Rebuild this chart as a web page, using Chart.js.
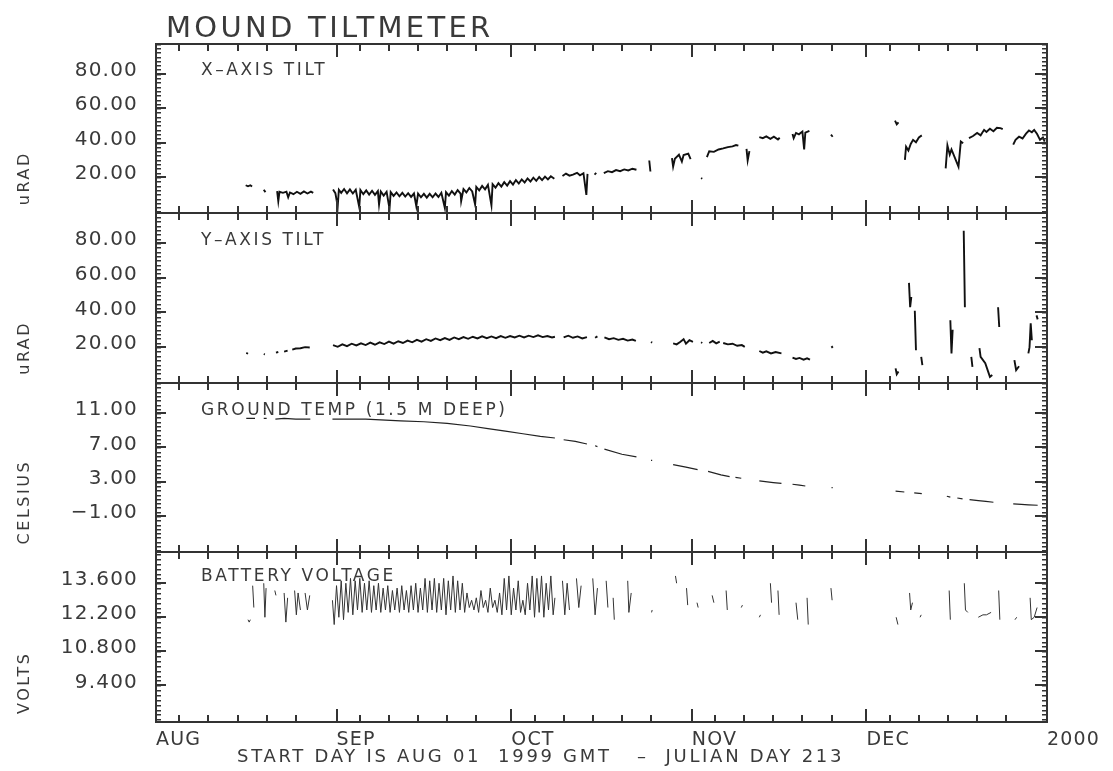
<!DOCTYPE html>
<html>
<head>
<meta charset="utf-8">
<title>Mound Tiltmeter</title>
<script src="https://cdn.jsdelivr.net/npm/chart.js@4.4.0/dist/chart.umd.min.js"></script>
<style>
  html, body { margin: 0; padding: 0; background: #fff; }
  #wrap { position: relative; width: 1113px; height: 771px; }
</style>
</head>
<body>
<div id="wrap"><canvas id="chart" width="1113" height="771"></canvas></div>
<script>
// dias contados desde el 1 de agosto de 1999 (0 = AUG 01)
const GAP = null;

const monthStartDays = [0, 31, 61, 92, 122, 153];
const monthLabels = ['AUG', 'SEP', 'OCT', 'NOV', 'DEC', '2000'];
const minorDays = [4, 9, 14, 19, 24, 35, 40, 45, 50, 55, 65, 70, 75, 80, 85,
                   96, 101, 106, 111, 116, 126, 131, 136, 141, 146];

const tiltTicks = [20, 40, 60, 80];
const tempTicks = [-1, 3, 7, 11];
const voltTicks = [9.4, 10.8, 12.2, 13.6];

const panelTitles = ['X\u2013AXIS TILT', 'Y\u2013AXIS TILT', 'GROUND TEMP (1.5 M DEEP)', 'BATTERY VOLTAGE'];
const unitTitles = ['uRAD', 'uRAD', 'CELSIUS', 'VOLTS'];

// X-AXIS TILT (uRAD)
const xTilt = [
  [15.4, 15.2], [15.8, 14.6], [16.2, 15.2], [16.5, 14.5], GAP,
  [18.5, 12.6], [18.8, 11.2], GAP,
  [20.8, 11.8], [21.0, 6.0], [21.2, 11.4], [21.8, 10.8], [22.4, 11.5], [22.7, 8.2], [23.0, 11.0],
  [23.6, 10.0], [24.2, 11.4], [24.8, 10.2], [25.4, 11.6], [26.0, 10.4], [26.6, 11.5], [27.0, 10.8], GAP,
  [30.4, 12.8], [30.8, 10.6], [31.2, 3.0], [31.4, 12.6], [31.8, 10.8], [32.3, 13.0], [32.8, 10.5],
  [33.3, 12.8], [33.8, 10.4], [34.3, 12.6], [34.9, 2.5], [35.1, 12.4], [35.6, 10.0], [36.1, 12.2],
  [36.6, 9.8], [37.1, 12.0], [37.6, 9.6], [38.1, 11.8], [38.3, 4.0], [38.6, 11.6], [39.1, 9.2],
  [39.6, 11.4], [40.1, 1.5], [40.3, 11.2], [40.8, 9.0], [41.3, 11.0], [41.8, 8.8], [42.3, 10.8],
  [42.8, 8.6], [43.3, 10.6], [43.8, 8.4], [44.3, 10.4], [44.7, 3.0], [45.0, 10.4], [45.5, 8.2],
  [46.0, 10.2], [46.5, 8.0], [47.0, 10.2], [47.5, 8.2], [48.0, 10.4], [48.5, 8.4], [49.0, 10.8],
  [49.6, 2.0], [49.8, 11.2], [50.3, 9.2], [50.8, 11.8], [51.3, 9.8], [51.8, 12.4], [52.3, 10.4],
  [52.4, 6.0], [52.8, 13.0], [53.3, 11.0], [53.8, 13.6], [54.3, 11.6], [54.8, 4.0], [55.0, 14.2],
  [55.5, 12.2], [56.0, 14.8], [56.5, 12.8], [57.0, 15.4], [57.6, 3.5], [57.8, 15.8], [58.3, 13.8],
  [58.8, 16.4], [59.3, 14.4], [59.8, 17.0], [60.3, 15.0], [60.8, 17.6], [61.3, 15.6], [61.8, 18.2],
  [62.3, 16.2], [62.8, 18.6], [63.3, 16.8], [63.8, 19.2], [64.3, 17.4], [64.8, 19.6], [65.3, 17.8],
  [65.8, 20.0], [66.3, 18.2], [66.8, 20.2], [67.3, 18.6], [67.8, 20.4], [68.4, 19.0], GAP,
  [69.8, 20.6], [70.4, 22.0], [71.0, 20.8], [71.6, 21.4], [72.3, 22.4], [72.8, 21.0], [73.4, 22.2],
  [73.9, 9.6], [74.1, 21.8], GAP,
  [75.3, 21.4], [75.6, 22.4], GAP,
  [76.9, 22.2], [77.6, 23.4], [78.3, 22.8], [79.0, 24.0], [79.7, 23.4], [80.4, 24.4], [81.1, 23.8],
  [81.8, 24.8], [82.5, 24.2], GAP,
  [84.7, 29.6], [84.9, 23.2], GAP,
  [88.6, 31.0], [88.8, 26.0], [89.1, 30.6], [89.8, 33.0], [90.3, 29.0], [90.6, 32.8], [91.4, 33.6],
  [91.8, 30.4], GAP,
  [93.6, 19.4], [93.8, 19.0], GAP,
  [94.6, 31.5], [95.0, 35.0], [95.8, 34.6], [96.6, 36.0], [97.4, 36.6], [98.2, 37.4], [99.0, 37.8],
  [99.6, 38.6], [100.0, 38.2], GAP,
  [101.4, 36.4], [101.6, 29.7], [101.9, 35.0], GAP,
  [103.6, 43.2], [104.2, 42.6], [104.8, 43.6], [105.5, 42.2], [106.1, 43.4], [106.8, 41.8], [107.1, 42.8], GAP,
  [109.3, 45.0], [109.5, 42.6], [109.9, 45.6], [110.4, 44.8], [111.0, 46.4], [111.3, 36.0], [111.5, 45.8],
  [112.2, 46.8], GAP,
  [115.9, 44.6], [116.2, 43.4], GAP,
  [126.9, 52.8], [127.2, 50.6], [127.5, 51.8], GAP,
  [128.6, 30.0], [128.8, 37.6], [129.2, 35.4], [129.6, 39.2], [130.0, 41.6], [130.5, 40.2], [131.0, 43.0],
  [131.5, 44.2], GAP,
  [135.6, 25.0], [135.9, 38.4], [136.3, 33.0], [136.6, 36.0], [137.8, 26.0], [138.2, 40.6], [138.6, 39.6], GAP,
  [139.6, 42.6], [140.3, 43.8], [141.0, 45.6], [141.6, 44.2], [142.2, 47.4], [142.6, 46.2], [143.2, 48.0],
  [143.8, 46.6], [144.4, 48.6], [145.0, 48.4], [145.4, 47.8], GAP,
  [147.2, 38.8], [147.6, 41.6], [148.2, 43.4], [148.8, 42.4], [149.4, 45.2], [149.9, 47.0], [150.4, 46.0],
  [150.8, 47.4], [151.3, 45.0], [151.8, 41.6], [152.3, 43.0], [152.6, 40.6]
];

// Y-AXIS TILT (uRAD)
const yTilt = [
  [15.5, 16.7], [15.8, 16.2], GAP,
  [18.5, 16.0], [18.7, 15.8], GAP,
  [20.6, 16.8], [21.0, 17.2], GAP,
  [22.0, 17.4], [22.6, 18.0], GAP,
  [23.4, 18.6], [24.0, 19.2], [24.8, 19.4], [25.6, 20.0], [26.4, 19.8], GAP,
  [30.4, 21.2], [31.2, 20.2], [32.0, 21.6], [32.8, 20.6], [33.6, 22.0], [34.4, 21.0], [35.2, 22.2],
  [36.0, 21.2], [36.8, 22.6], [37.6, 21.4], [38.4, 22.8], [39.2, 21.8], [40.0, 23.2], [40.8, 22.0],
  [41.6, 23.4], [42.4, 22.4], [43.2, 23.8], [44.0, 22.8], [44.8, 24.2], [45.6, 23.2], [46.4, 24.6],
  [47.2, 23.6], [48.0, 25.0], [48.8, 24.0], [49.6, 25.2], [50.4, 24.2], [51.2, 25.6], [52.0, 24.6],
  [52.8, 25.8], [53.6, 24.8], [54.4, 26.0], [55.2, 25.0], [56.0, 26.2], [56.8, 25.2], [57.6, 26.2],
  [58.4, 25.2], [59.2, 26.4], [60.0, 25.4], [60.8, 26.4], [61.6, 25.6], [62.4, 26.6], [63.2, 25.6],
  [64.0, 26.6], [64.8, 25.8], [65.6, 26.8], [66.4, 25.8], [67.2, 26.4], [68.0, 25.6], [68.5, 26.0], GAP,
  [70.0, 25.6], [70.8, 26.6], [71.6, 25.4], [72.4, 26.2], [73.2, 25.0], [74.0, 25.8], GAP,
  [75.4, 25.4], [75.8, 26.2], GAP,
  [77.0, 25.6], [77.8, 24.6], [78.6, 25.2], [79.4, 24.2], [80.2, 24.8], [81.0, 23.8], [81.8, 24.4],
  [82.4, 23.6], GAP,
  [85.0, 23.0], [85.2, 22.6], GAP,
  [88.8, 22.2], [89.4, 21.6], [90.0, 23.0], [90.6, 24.6], [91.0, 22.0], [91.6, 24.0], [92.2, 23.0], GAP,
  [93.6, 22.8], [93.8, 22.4], GAP,
  [95.0, 22.4], [95.6, 23.6], [96.2, 22.2], [96.8, 23.2], GAP,
  [97.4, 22.4], [98.2, 21.6], [99.0, 22.0], [99.8, 20.8], [100.6, 21.2], [101.1, 20.2], GAP,
  [103.6, 17.8], [104.2, 16.8], [104.8, 17.6], [105.6, 16.4], [106.4, 17.2], [107.4, 16.4], GAP,
  [109.3, 14.0], [109.9, 13.2], [110.5, 13.8], [111.2, 12.8], [111.8, 13.6], [112.3, 12.8], GAP,
  [116.0, 20.6], [116.2, 19.6], GAP,
  [127.0, 7.8], [127.2, 4.4], [127.5, 6.0], GAP,
  [129.3, 57.0], [129.5, 43.0], [129.7, 49.0], GAP,
  [130.3, 41.0], [130.5, 18.2], GAP,
  [131.4, 14.4], [131.6, 9.6], GAP,
  [136.4, 35.5], [136.6, 16.4], [136.8, 30.0], GAP,
  [138.7, 87.0], [138.9, 43.0], GAP,
  [140.0, 14.4], [140.2, 8.7], GAP,
  [141.4, 19.4], [141.6, 14.4], [142.4, 10.8], [143.2, 2.9], [143.6, 4.0], GAP,
  [144.6, 43.0], [144.8, 31.6], GAP,
  [147.4, 12.5], [147.7, 6.8], [148.2, 9.0], GAP,
  [149.8, 16.4], [150.0, 20.0], [150.2, 33.7], [150.4, 24.0], GAP,
  [151.2, 38.3], [151.4, 36.0]
];

// GROUND TEMP (CELSIUS)
const groundTemp = [
  [15.5, 10.4], [17.0, 10.4], GAP,
  [18.5, 10.4], [19.0, 10.4], GAP,
  [20.5, 10.3], [22.0, 10.4], [24.0, 10.3], [26.5, 10.3], GAP,
  [30.3, 10.3], [36.0, 10.3], [42.0, 10.1], [46.0, 10.0], [50.0, 9.8], [54.0, 9.5], [57.0, 9.2],
  [60.0, 8.9], [63.0, 8.6], [66.0, 8.3], [68.5, 8.1], GAP,
  [70.0, 7.9], [72.0, 7.7], [74.0, 7.4], GAP,
  [75.4, 7.2], [75.8, 7.1], GAP,
  [77.0, 6.8], [80.0, 6.2], [82.5, 5.9], GAP,
  [85.0, 5.5], [85.2, 5.5], GAP,
  [88.8, 5.0], [91.0, 4.7], [93.0, 4.4], GAP,
  [94.8, 4.2], [97.0, 3.8], [98.5, 3.6], GAP,
  [99.5, 3.5], [100.5, 3.4], GAP,
  [103.6, 3.1], [106.0, 2.9], [107.4, 2.8], GAP,
  [109.3, 2.7], [110.5, 2.6], [111.5, 2.5], GAP,
  [116.0, 2.3], [116.2, 2.3], GAP,
  [127.0, 1.9], [128.5, 1.8], GAP,
  [130.2, 1.7], [131.5, 1.6], GAP,
  [135.8, 1.3], [136.4, 1.2], GAP,
  [137.6, 1.1], [138.5, 1.0], GAP,
  [139.7, 0.9], [141.2, 0.8], [142.5, 0.7], [143.8, 0.6], GAP,
  [147.2, 0.4], [148.6, 0.35], [149.8, 0.3], [151.4, 0.25]
];

// BATTERY VOLTAGE (VOLTS)
const battery = [
  [15.8, 12.1], [16.0, 12.0], [16.2, 12.1], GAP,
  [16.6, 13.5], [16.8, 12.6], GAP,
  [18.5, 13.6], [18.7, 12.2], [18.9, 13.4], GAP,
  [20.4, 13.3], [20.6, 13.1], GAP,
  [22.0, 13.2], [22.3, 12.0], [22.6, 13.0], GAP,
  [23.8, 13.3], [24.1, 12.3], [24.4, 13.2], [24.8, 12.5], GAP,
  [25.6, 13.2], [26.0, 12.5], [26.4, 13.1], GAP,
  [30.3, 12.9], [30.6, 11.9], [31.0, 13.5], [31.4, 12.2], [31.8, 13.7], [32.2, 12.1], [32.6, 13.6],
  [33.0, 12.4], [33.4, 13.8], [33.8, 12.3], [34.2, 13.7], [34.6, 12.5], [35.0, 13.8], [35.4, 12.4],
  [35.8, 13.6], [36.2, 12.5], [36.6, 13.7], [37.0, 12.4], [37.4, 13.5], [37.8, 12.5], [38.2, 13.6],
  [38.6, 12.4], [39.0, 13.4], [39.4, 12.5], [39.8, 13.5], [40.2, 12.4], [40.6, 13.3], [41.0, 12.5],
  [41.4, 13.4], [41.8, 12.4], [42.2, 13.5], [42.6, 12.5], [43.0, 13.3], [43.4, 12.4], [43.8, 13.5],
  [44.2, 12.5], [44.6, 13.6], [45.0, 12.4], [45.4, 13.4], [45.8, 12.5], [46.2, 13.8], [46.6, 12.4],
  [47.0, 13.7], [47.4, 12.5], [47.8, 13.8], [48.2, 12.4], [48.6, 13.6], [49.0, 12.5], [49.4, 13.8],
  [49.8, 12.3], [50.2, 13.7], [50.6, 12.5], [51.0, 13.9], [51.4, 12.4], [51.8, 13.7], [52.2, 12.5],
  [52.6, 13.6], [53.0, 12.4], [53.4, 13.2], [53.8, 12.6], [54.2, 12.9], [54.6, 12.5], [55.0, 13.0],
  [55.4, 12.4], [55.8, 13.3], [56.2, 12.6], [56.6, 12.9], [57.0, 12.4], [57.4, 13.4], [57.8, 12.6],
  [58.2, 12.9], [58.6, 12.4], [59.0, 13.2], [59.4, 12.3], [59.8, 13.8], [60.2, 12.5], [60.6, 13.9],
  [61.0, 12.3], [61.4, 13.4], [61.8, 12.5], [62.2, 13.7], [62.6, 12.4], [63.0, 12.9], [63.4, 12.3],
  [63.8, 13.6], [64.2, 12.5], [64.6, 13.9], [65.0, 12.2], [65.4, 13.8], [65.8, 12.4], [66.2, 13.9],
  [66.6, 12.2], [67.0, 13.6], [67.4, 12.5], [67.8, 13.9], [68.2, 12.3], [68.5, 13.0], GAP,
  [69.8, 13.7], [70.2, 12.3], [70.6, 13.6], [71.0, 12.5], GAP,
  [72.2, 13.8], [72.6, 12.6], [73.0, 13.5], GAP,
  [75.0, 13.8], [75.4, 12.3], [75.8, 13.4], GAP,
  [77.3, 13.7], [77.6, 12.6], GAP,
  [78.5, 13.0], [78.7, 12.1], GAP,
  [81.0, 13.7], [81.2, 12.4], [81.6, 13.2], GAP,
  [85.1, 12.4], [85.2, 12.5], GAP,
  [89.2, 13.9], [89.4, 13.6], GAP,
  [91.1, 13.4], [91.3, 12.7], GAP,
  [92.9, 12.8], [93.1, 12.6], GAP,
  [95.5, 13.1], [95.8, 12.8], GAP,
  [97.9, 13.3], [98.1, 12.5], GAP,
  [100.5, 12.6], [100.7, 12.7], GAP,
  [103.6, 12.2], [103.8, 12.3], GAP,
  [105.5, 13.6], [105.7, 12.8], GAP,
  [106.8, 13.3], [107.0, 12.3], GAP,
  [109.9, 12.8], [110.2, 12.1], GAP,
  [111.8, 13.0], [112.0, 11.9], GAP,
  [115.9, 13.4], [116.1, 12.9], GAP,
  [127.1, 12.2], [127.4, 11.9], GAP,
  [129.4, 13.2], [129.6, 12.5], [129.9, 12.8], GAP,
  [131.2, 12.2], [131.4, 12.3], GAP,
  [136.2, 13.3], [136.4, 12.1], GAP,
  [138.8, 13.6], [139.0, 12.5], [139.4, 12.4], GAP,
  [141.2, 12.2], [142.0, 12.3], [142.6, 12.3], [143.4, 12.4], GAP,
  [144.7, 13.3], [144.9, 12.1], GAP,
  [147.5, 12.1], [147.8, 12.2], GAP,
  [150.1, 13.0], [150.3, 12.1], [150.8, 12.2], [151.3, 12.6]
];

// estilo de cada panel (de arriba hacia abajo)
const panels = [
  { id: 'y1', data: xTilt,      min: -1.0,  max: 97.6,  major: tiltTicks, minor: 2.5, dec: 2, labelDy: 27, lw: 1.9, color: '#111' },
  { id: 'y2', data: yTilt,      min: -0.5,  max: 97.2,  major: tiltTicks, minor: 2.5, dec: 2, labelDy: 27, lw: 1.9, color: '#111' },
  { id: 'y3', data: groundTemp, min: -5.25, max: 14.55, major: tempTicks, minor: 0.5, dec: 2, labelDy: 28, lw: 1.2, color: '#222' },
  { id: 'y4', data: battery,    min: 7.89,  max: 14.87, major: voltTicks, minor: 0.2, dec: 3, labelDy: 24, lw: 1.0, color: '#333' }
];

const textColor = '#3a3a3a';
const lineColor = '#333';
const fontFamily = "'DejaVu Sans', 'Open Sans', sans-serif";

function toPoints(list) {
  let lastX = 0;
  return list.map(p => {
    if (p === null) return { x: lastX, y: null };
    lastX = p[0];
    return { x: p[0], y: p[1] };
  });
}

function fmt(v, dec) {
  return v.toFixed(dec).replace('-', '\u2212');
}

const scales = {
  x: {
    type: 'linear',
    position: 'bottom',
    min: 0,
    max: 153,
    afterBuildTicks: s => { s.ticks = monthStartDays.map(v => ({ value: v })); },
    afterFit: s => { s.height = 49; },
    grid: { display: false, drawTicks: false },
    border: { display: false },
    ticks: {
      align: 'start',
      autoSkip: false,
      maxRotation: 0,
      padding: 7,
      color: textColor,
      font: { family: fontFamily, size: 19 },
      callback: (v, i) => monthLabels[i]
    }
  }
};

panels.forEach((p, i) => {
  scales[p.id] = {
    type: 'linear',
    position: 'left',
    stack: 'panels',
    stackWeight: 1,
    weight: 10 - i,
    min: p.min,
    max: p.max,
    afterBuildTicks: s => { s.ticks = p.major.map(v => ({ value: v })); },
    afterFit: s => { s.width = 156; },
    grid: { display: false, drawTicks: false },
    border: { display: false },
    ticks: {
      padding: 18,
      labelOffset: -3,
      color: textColor,
      font: { family: fontFamily, size: 20 },
      callback: v => fmt(v, p.dec)
    }
  };
});

const datasets = panels.map(p => ({
  data: toPoints(p.data),
  yAxisID: p.id,
  borderColor: p.color,
  borderWidth: p.lw,
  pointRadius: 0,
  tension: 0,
  spanGaps: false
}));

// marco de cada panel con sus marcas hacia adentro
function drawFrames(chart) {
  const ctx = chart.ctx;
  const xs = chart.scales.x;
  const left = Math.round(chart.chartArea.left);
  const right = Math.round(chart.chartArea.right);
  ctx.save();
  ctx.fillStyle = lineColor;
  panels.forEach(p => {
    const s = chart.scales[p.id];
    const top = Math.round(s.top);
    const bottom = Math.round(s.bottom);

    monthStartDays.forEach(d => {
      const x = Math.round(xs.getPixelForValue(d));
      ctx.fillRect(x - 1, top, 2, 13);
      ctx.fillRect(x - 1, bottom - 13, 2, 13);
    });
    minorDays.forEach(d => {
      const x = Math.round(xs.getPixelForValue(d));
      ctx.fillRect(x - 1, top, 2, 7);
      ctx.fillRect(x - 1, bottom - 7, 2, 7);
    });

    const n0 = Math.ceil(p.min / p.minor - 1e-9);
    const n1 = Math.floor(p.max / p.minor + 1e-9);
    for (let n = n0; n <= n1; n++) {
      const y = Math.round(s.getPixelForValue(n * p.minor));
      ctx.fillRect(left, y, 5, 1.5);
      ctx.fillRect(right - 5, y, 5, 1.5);
    }
    p.major.forEach(v => {
      const y = Math.round(s.getPixelForValue(v));
      ctx.fillRect(left, y - 1, 10, 2);
      ctx.fillRect(right - 12, y - 1, 12, 2);
    });

    ctx.fillRect(left - 1, top - 1, right - left + 2, 2);
    ctx.fillRect(left - 1, bottom - 1, right - left + 2, 2);
    ctx.fillRect(left - 1, top - 1, 2, bottom - top + 2);
    ctx.fillRect(right - 1, top - 1, 2, bottom - top + 2);
  });
  ctx.restore();
}

function drawTexts(chart) {
  const ctx = chart.ctx;
  const left = chart.chartArea.left;
  ctx.save();
  ctx.fillStyle = textColor;
  ctx.textAlign = 'left';

  ctx.font = '29px ' + fontFamily;
  ctx.letterSpacing = '3.3px';
  ctx.textBaseline = 'alphabetic';
  ctx.fillText('MOUND TILTMETER', 166, 37);

  ctx.textBaseline = 'middle';
  panels.forEach((p, i) => {
    const s = chart.scales[p.id];
    ctx.font = '17px ' + fontFamily;
    ctx.letterSpacing = '2.6px';
    ctx.fillText(panelTitles[i], left + 45, s.top + p.labelDy);

    ctx.save();
    ctx.translate(25, s.bottom - 8);
    ctx.rotate(-Math.PI / 2);
    ctx.font = '16px ' + fontFamily;
    ctx.letterSpacing = '2.5px';
    ctx.fillText(unitTitles[i], 0, 0);
    ctx.restore();
  });

  ctx.font = '18px ' + fontFamily;
  ctx.letterSpacing = '2.7px';
  ctx.textBaseline = 'alphabetic';
  ctx.fillText('START DAY IS AUG 01  1999 GMT   \u2013  JULIAN DAY 213', 237, 762);
  ctx.restore();
}

const marcoPlugin = {
  id: 'marco',
  beforeDraw(chart) {
    chart.ctx.letterSpacing = '1.2px';
  },
  afterDraw(chart) {
    drawFrames(chart);
    drawTexts(chart);
  }
};

new Chart(document.getElementById('chart'), {
  type: 'line',
  data: { datasets: datasets },
  options: {
    responsive: false,
    animation: false,
    devicePixelRatio: 1,
    layout: { padding: { top: 43.5, right: 66, bottom: 0, left: 0 } },
    plugins: { legend: { display: false }, tooltip: { enabled: false } },
    scales: scales
  },
  plugins: [marcoPlugin]
});
</script>
</body>
</html>
